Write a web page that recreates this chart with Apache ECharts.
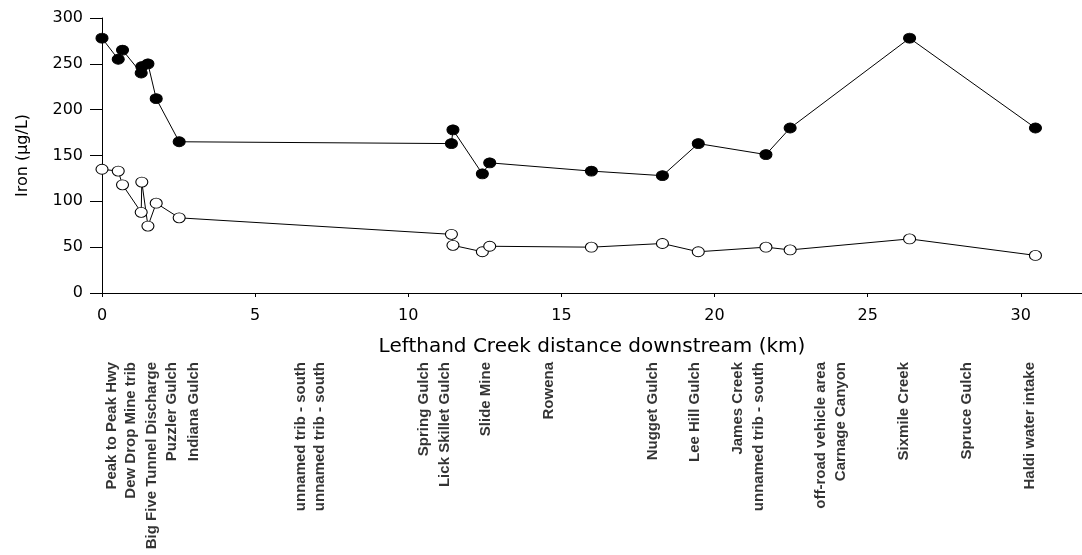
<!DOCTYPE html>
<html><head><meta charset="utf-8">
<script src="https://cdn.jsdelivr.net/npm/echarts@6/dist/echarts.min.js"></script>
<style>html,body{margin:0;padding:0;background:#fff}#c{width:1082px;height:555px}</style>
</head><body><div id="c"></div>
<script>
// Sample distances downstream (km)
const distanceKm = [0, 0.53, 0.67, 1.28, 1.30, 1.50, 1.77, 2.52, 11.41, 11.46, 12.42, 12.66, 15.98, 18.30, 19.47, 21.68, 22.47, 26.37, 30.48];
// Iron, filled circles (µg/L)
const ironFilled = [278, 255, 265, 240, 247, 250, 212, 165, 163, 178, 130, 142, 133, 128, 163, 151, 180, 278, 180];
// Iron, open circles (µg/L)
const ironOpen = [135, 133, 118, 88, 121, 73, 98, 82, 64, 52, 45, 51, 50, 54, 45, 50, 47, 59, 41];
// Site names and their label positions (km)
const siteNames = ['Peak to Peak Hwy', 'Dew Drop Mine trib', 'Big Five Tunnel Discharge', 'Puzzler Gulch', 'Indiana Gulch',
  'unnamed trib - south', 'unnamed trib - south', 'Spring Gulch', 'Lick Skillet Gulch', 'Slide Mine', 'Rowena',
  'Nugget Gulch', 'Lee Hill Gulch', 'James Creek', 'unnamed trib - south', 'off-road vehicle area', 'Carnage Canyon',
  'Sixmile Creek', 'Spruce Gulch', 'Haldi water intake'];
const siteKm = [0.31, 0.93, 1.64, 2.29, 2.99, 6.5, 7.12, 10.5, 11.2, 12.55, 14.6, 18.0, 19.37, 20.76, 21.45, 23.48, 24.13, 26.18, 28.23, 30.29];
const xMin = 0, xMax = 32, xStep = 5;
const yMin = 0, yMax = 300, yStep = 50;

const chart = echarts.init(document.getElementById('c'), null, {renderer: 'canvas'});
const font = 'DejaVu Sans';
const filledData = distanceKm.map((x, i) => [x, ironFilled[i]]);
const openData = distanceKm.map((x, i) => [x, ironOpen[i]]);
const siteData = siteKm.map((x, i) => ({value: [x, 1], name: siteNames[i]}));

chart.setOption({
  animation: false,
  backgroundColor: '#fff',
  grid: [
    {left: 102, right: -8, top: 18, bottom: 262, containLabel: false},
    {left: 102, right: -8, top: 362, height: 10, containLabel: false}
  ],
  xAxis: [{
    type: 'value', gridIndex: 0, min: xMin, max: xMax, interval: xStep,
    name: 'Lefthand Creek distance downstream (km)', nameLocation: 'middle', nameGap: 44,
    nameTextStyle: {fontFamily: font, fontSize: 20, color: '#000'},
    axisLine: {show: true, onZero: false, lineStyle: {color: '#000', width: 1}},
    axisTick: {show: true, length: 4, lineStyle: {color: '#000', width: 1}},
    axisLabel: {fontFamily: font, fontSize: 16, color: '#000', margin: 15, showMaxLabel: false,
      formatter: v => (v % xStep === 0 ? String(v) : '')},
    splitLine: {show: false}
  }, {
    type: 'value', gridIndex: 1, min: xMin, max: xMax, show: false
  }],
  yAxis: [{
    type: 'value', gridIndex: 0, min: yMin, max: yMax, interval: yStep,
    name: 'Iron (µg/L)', nameLocation: 'middle', nameGap: 71, nameRotate: 90,
    nameTextStyle: {fontFamily: font, fontSize: 16, color: '#000'},
    axisLine: {show: true, lineStyle: {color: '#000', width: 1}},
    axisTick: {show: true, length: 12, lineStyle: {color: '#000', width: 1}},
    axisLabel: {fontFamily: font, fontSize: 16, color: '#000', margin: 19},
    splitLine: {show: false}
  }, {
    type: 'value', gridIndex: 1, min: 0, max: 1, show: false
  }],
  series: [{
    type: 'line', xAxisIndex: 0, yAxisIndex: 0, data: filledData,
    symbol: 'circle', symbolSize: [12, 10], showAllSymbol: true,
    lineStyle: {color: '#000', width: 1},
    itemStyle: {color: '#000', borderColor: '#000', borderWidth: 1},
    z: 3
  }, {
    type: 'line', xAxisIndex: 0, yAxisIndex: 0, data: openData,
    symbol: 'circle', symbolSize: [12, 10], showAllSymbol: true,
    lineStyle: {color: '#000', width: 1},
    itemStyle: {color: '#fff', borderColor: '#000', borderWidth: 1},
    z: 3
  }, {
    type: 'scatter', xAxisIndex: 1, yAxisIndex: 1, data: siteData,
    symbolSize: 0, silent: true,
    label: {show: true, position: 'inside', rotate: 90, align: 'right', verticalAlign: 'middle',
      formatter: p => p.name, fontFamily: 'Liberation Sans', fontWeight: 'bold', fontSize: 15,
      color: '#000', textBorderWidth: 0}
  }]
});
</script></body></html>
